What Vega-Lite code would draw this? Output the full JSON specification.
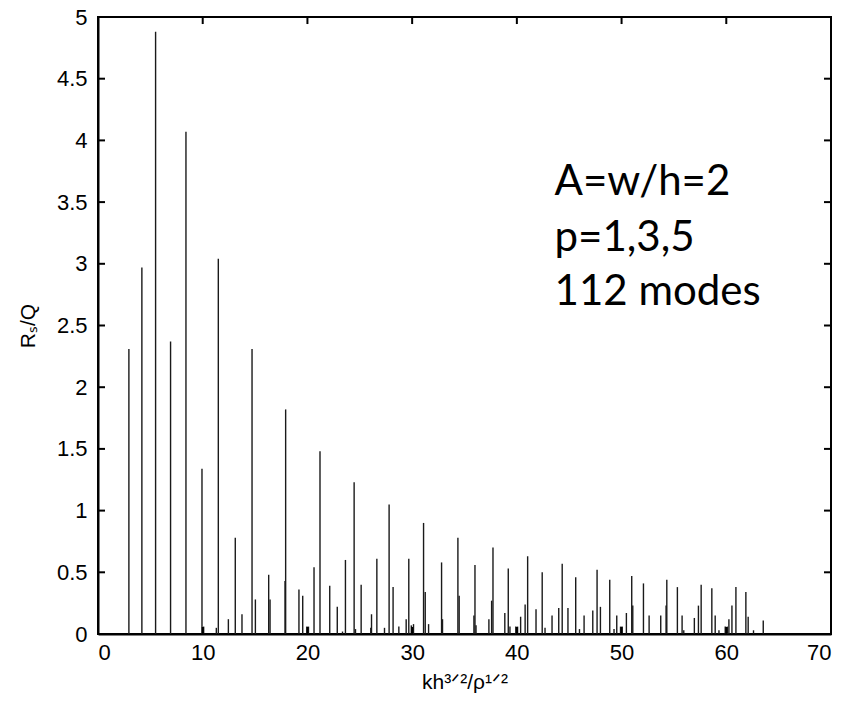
{
  "$schema": "https://vega.github.io/schema/vega-lite/v6.json",
  "width": 733,
  "height": 617,
  "autosize": {"type": "none"},
  "padding": {"left": 98, "top": 17, "right": 17, "bottom": 74},
  "background": "white",
  "config": {
    "view": {"stroke": "black", "strokeWidth": 2},
    "axis": {
      "labelFont": "Liberation Sans",
      "titleFont": "Liberation Sans",
      "labelFontSize": 22,
      "titleFontSize": 21,
      "titleFontWeight": "normal",
      "labelColor": "black",
      "titleColor": "black",
      "domainColor": "black",
      "domainWidth": 2,
      "grid": false
    }
  },
  "datasets": {
    "modes": [
      {"k": 2.95, "r": 2.31}, {"k": 4.19, "r": 2.97}, {"k": 5.5, "r": 4.88}, {"k": 6.93, "r": 2.37},
      {"k": 8.4, "r": 4.07}, {"k": 9.93, "r": 1.34}, {"k": 10.09, "r": 0.06}, {"k": 11.3, "r": 0.05},
      {"k": 11.49, "r": 3.04}, {"k": 12.45, "r": 0.12}, {"k": 13.11, "r": 0.78}, {"k": 13.75, "r": 0.16},
      {"k": 14.71, "r": 2.31}, {"k": 15.03, "r": 0.28}, {"k": 16.3, "r": 0.48}, {"k": 16.43, "r": 0.28},
      {"k": 17.86, "r": 0.43}, {"k": 17.92, "r": 1.82}, {"k": 19.19, "r": 0.36}, {"k": 19.55, "r": 0.31},
      {"k": 19.95, "r": 0.06}, {"k": 20.1, "r": 0.06}, {"k": 20.63, "r": 0.54}, {"k": 21.2, "r": 1.48},
      {"k": 22.13, "r": 0.39}, {"k": 22.85, "r": 0.22}, {"k": 23.35, "r": 0.02}, {"k": 23.63, "r": 0.6},
      {"k": 24.46, "r": 1.23}, {"k": 24.59, "r": 0.04}, {"k": 25.13, "r": 0.4}, {"k": 26.05, "r": 0.05},
      {"k": 26.12, "r": 0.16}, {"k": 26.63, "r": 0.61}, {"k": 27.36, "r": 0.05}, {"k": 27.8, "r": 1.05},
      {"k": 28.18, "r": 0.38}, {"k": 28.73, "r": 0.06}, {"k": 29.43, "r": 0.12}, {"k": 29.68, "r": 0.61},
      {"k": 29.92, "r": 0.07}, {"k": 30.13, "r": 0.08}, {"k": 31.09, "r": 0.9}, {"k": 31.25, "r": 0.34},
      {"k": 31.57, "r": 0.08}, {"k": 32.81, "r": 0.58}, {"k": 32.9, "r": 0.12}, {"k": 34.37, "r": 0.78},
      {"k": 34.49, "r": 0.31}, {"k": 35.9, "r": 0.15}, {"k": 36.0, "r": 0.56}, {"k": 36.1, "r": 0.07},
      {"k": 37.33, "r": 0.12}, {"k": 37.59, "r": 0.27}, {"k": 37.72, "r": 0.7}, {"k": 38.85, "r": 0.17},
      {"k": 39.18, "r": 0.53}, {"k": 39.34, "r": 0.06}, {"k": 39.9, "r": 0.06}, {"k": 40.07, "r": 0.06},
      {"k": 40.36, "r": 0.14}, {"k": 40.79, "r": 0.24}, {"k": 41.03, "r": 0.63}, {"k": 41.83, "r": 0.2},
      {"k": 42.42, "r": 0.5}, {"k": 42.69, "r": 0.05}, {"k": 43.36, "r": 0.15}, {"k": 44.0, "r": 0.21},
      {"k": 44.33, "r": 0.57}, {"k": 44.88, "r": 0.21}, {"k": 45.62, "r": 0.46}, {"k": 45.98, "r": 0.04},
      {"k": 46.42, "r": 0.15}, {"k": 47.25, "r": 0.19}, {"k": 47.66, "r": 0.52}, {"k": 47.98, "r": 0.22},
      {"k": 48.87, "r": 0.44}, {"k": 49.28, "r": 0.04}, {"k": 49.54, "r": 0.15}, {"k": 49.9, "r": 0.06},
      {"k": 50.05, "r": 0.06}, {"k": 50.46, "r": 0.17}, {"k": 50.97, "r": 0.47}, {"k": 51.07, "r": 0.23},
      {"k": 52.09, "r": 0.41}, {"k": 52.63, "r": 0.15}, {"k": 53.74, "r": 0.15}, {"k": 54.25, "r": 0.23},
      {"k": 54.32, "r": 0.44}, {"k": 55.33, "r": 0.38}, {"k": 55.78, "r": 0.15}, {"k": 55.94, "r": 0.03},
      {"k": 56.95, "r": 0.13}, {"k": 57.34, "r": 0.23}, {"k": 57.6, "r": 0.4}, {"k": 58.62, "r": 0.37},
      {"k": 58.94, "r": 0.15}, {"k": 59.3, "r": 0.03}, {"k": 59.9, "r": 0.06}, {"k": 60.1, "r": 0.06},
      {"k": 60.25, "r": 0.12}, {"k": 60.54, "r": 0.23}, {"k": 60.92, "r": 0.38}, {"k": 61.87, "r": 0.34},
      {"k": 62.09, "r": 0.14}, {"k": 62.6, "r": 0.03}, {"k": 63.53, "r": 0.11}
    ],
    "xticks": [{"t": 0}, {"t": 10}, {"t": 20}, {"t": 30}, {"t": 40}, {"t": 50}, {"t": 60}, {"t": 70}],
    "yticks": [{"t": 0}, {"t": 0.5}, {"t": 1}, {"t": 1.5}, {"t": 2}, {"t": 2.5}, {"t": 3}, {"t": 3.5}, {"t": 4}, {"t": 4.5}, {"t": 5}],
    "notes": [
      {"k": 43.6, "r": 3.66, "label": "A=w/h=2"},
      {"k": 43.6, "r": 3.21, "label": "p=1,3,5"},
      {"k": 43.6, "r": 2.77, "label": "112 modes"}
    ]
  },
  "layer": [
    {
      "data": {"name": "modes"},
      "mark": {"type": "rule", "color": "#1a1a1a", "strokeWidth": 1.4},
      "encoding": {
        "x": {
          "field": "k", "type": "quantitative",
          "scale": {"domain": [0, 70], "nice": false},
          "axis": {"orient": "bottom", "values": [0, 10, 20, 30, 40, 50, 60, 70], "format": "d", "ticks": false, "labelPadding": 8, "title": "kh³ᐟ²/ρ¹ᐟ²", "titlePadding": 8}
        },
        "y": {
          "field": "r", "type": "quantitative",
          "scale": {"domain": [0, 5], "nice": false},
          "axis": {"orient": "left", "values": [0, 0.5, 1, 1.5, 2, 2.5, 3, 3.5, 4, 4.5, 5], "format": "~g", "ticks": false, "labelPadding": 11, "title": "Rₛ/Q", "titlePadding": 18}
        },
        "y2": {"datum": 0}
      }
    },
    {
      "data": {"name": "xticks"},
      "mark": {"type": "rule", "color": "black", "strokeWidth": 2},
      "encoding": {
        "x": {"field": "t", "type": "quantitative", "axis": null},
        "y": {"datum": 0, "axis": null},
        "y2": {"datum": 0.057}
      }
    },
    {
      "data": {"name": "xticks"},
      "mark": {"type": "rule", "color": "black", "strokeWidth": 2},
      "encoding": {
        "x": {"field": "t", "type": "quantitative", "axis": null},
        "y": {"datum": 5, "axis": null},
        "y2": {"datum": 4.943}
      }
    },
    {
      "data": {"name": "yticks"},
      "mark": {"type": "rule", "color": "black", "strokeWidth": 2},
      "encoding": {
        "y": {"field": "t", "type": "quantitative", "axis": null},
        "x": {"datum": 0, "axis": null},
        "x2": {"datum": 0.67}
      }
    },
    {
      "data": {"name": "yticks"},
      "mark": {"type": "rule", "color": "black", "strokeWidth": 2},
      "encoding": {
        "y": {"field": "t", "type": "quantitative", "axis": null},
        "x": {"datum": 70, "axis": null},
        "x2": {"datum": 69.33}
      }
    },
    {
      "data": {"name": "notes"},
      "mark": {"type": "text", "align": "left", "baseline": "middle", "font": "Lato", "fontSize": 42, "color": "black"},
      "encoding": {
        "x": {"field": "k", "type": "quantitative", "axis": null},
        "y": {"field": "r", "type": "quantitative", "axis": null},
        "text": {"field": "label"}
      }
    }
  ],
  "resolve": {"axis": {"x": "independent", "y": "independent"}}
}
